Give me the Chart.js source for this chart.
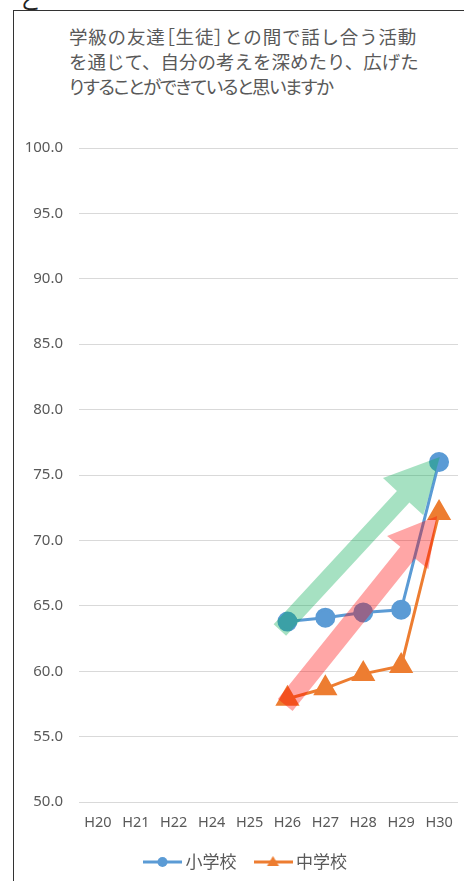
<!DOCTYPE html>
<html>
<head>
<meta charset="utf-8">
<script src="https://cdn.jsdelivr.net/npm/chart.js@4.4.1/dist/chart.umd.min.js"></script>
<style>
  body { margin: 0; background: #fff; width: 464px; height: 886px; overflow: hidden; position: relative; }
  #frame { position: absolute; left: 13px; top: 10px; width: 460px; height: 870px;
           border-left: 1.5px solid #333; border-top: 1.5px solid #333; }
  #cut { position: absolute; left: 19px; top: -17px; font: 22px "Noto Sans CJK JP"; color: #222; }
  #title { position: absolute; left: 69px; top: 24px; font: 18.5px "Noto Sans CJK JP"; line-height: 25px; color: #595959; white-space: nowrap; }
  #title .l1 { letter-spacing: 0.8px; }
  #title .b { font-feature-settings: "palt"; }
  #title .p { font-feature-settings: "palt"; letter-spacing: -1.4px; }
  #box { position: absolute; left: 15px; top: 11px; width: 449px; height: 875px; }
</style>
</head>
<body>
<div id="cut">と</div>
<div id="frame"></div>
<div id="title">
  <div class="l1">学級の友達<span class="b">［</span>生徒<span class="b">］</span>との間で話し合う活動</div>
  <div>を通じて、自分の考えを深めたり、広げた</div>
  <div class="p">りすることができていると思いますか</div>
</div>
<div id="box"><canvas id="myChart"></canvas></div>
<script>
// ---------- DATA ----------
var years = ["H20", "H21", "H22", "H24", "H25", "H26", "H27", "H28", "H29", "H30"];
var elementary = [null, null, null, null, null, 63.8, 64.1, 64.5, 64.7, 76.0];
var juniorHigh = [null, null, null, null, null, 57.9, 58.7, 59.8, 60.4, 72.1];
var yTicks = [50, 55, 60, 65, 70, 75, 80, 85, 90, 95, 100];

var blue = '#5B9BD5';
var orange = '#ED7D31';

// decorative arrows, in data units (category index, value)
var arrows = [
  { from: [4.80, 63.15], to: [9.02, 76.38], color: 'rgba(0,170,80,0.35)', shaft: 17, headW: 55, headL: 54 },
  { from: [4.94, 57.42], to: [8.95, 71.87], color: 'rgba(255,0,0,0.35)', shaft: 19, headW: 53, headL: 47 }
];

var arrowPlugin = {
  id: 'arrows',
  afterDatasetsDraw: function(chart) {
    var ctx = chart.ctx, xs = chart.scales.x, ys = chart.scales.y;
    arrows.forEach(function(a) {
      var x0 = xs.getPixelForValue(a.from[0]), y0 = ys.getPixelForValue(a.from[1]);
      var x1 = xs.getPixelForValue(a.to[0]), y1 = ys.getPixelForValue(a.to[1]);
      var len = Math.hypot(x1 - x0, y1 - y0);
      var ux = (x1 - x0) / len, uy = (y1 - y0) / len;
      var px = -uy, py = ux;
      var nx = x1 - ux * a.headL, ny = y1 - uy * a.headL;
      var s = a.shaft / 2, h = a.headW / 2;
      ctx.save();
      ctx.fillStyle = a.color;
      ctx.beginPath();
      ctx.moveTo(x0 + px * s, y0 + py * s);
      ctx.lineTo(nx + px * s, ny + py * s);
      ctx.lineTo(nx + px * h, ny + py * h);
      ctx.lineTo(x1, y1);
      ctx.lineTo(nx - px * h, ny - py * h);
      ctx.lineTo(nx - px * s, ny - py * s);
      ctx.lineTo(x0 - px * s, y0 - py * s);
      ctx.closePath();
      ctx.fill();
      ctx.restore();
    });
  }
};

// the legend sits a little right of the canvas centre in the original
var legendNudge = {
  id: 'legendNudge',
  afterLayout: function(chart) {
    chart.legend.left += 11;
    chart.legend.right += 11;
  }
};

// legend swatch: line with marker
function swatch(color, shape) {
  var c = document.createElement('canvas');
  c.width = 39; c.height = 14;
  var g = c.getContext('2d');
  g.strokeStyle = color; g.fillStyle = color; g.lineWidth = 3;
  g.beginPath(); g.moveTo(0, 7); g.lineTo(39, 7); g.stroke();
  g.beginPath();
  if (shape === 'circle') {
    g.arc(19.5, 7, 5, 0, Math.PI * 2);
  } else {
    g.moveTo(19.5, 1); g.lineTo(25.5, 11); g.lineTo(13.5, 11); g.closePath();
  }
  g.fill();
  return c;
}

var ctx = document.getElementById('myChart').getContext('2d');
var myChart = new Chart(ctx, {
  type: 'line',
  data: {
    labels: years,
    datasets: [{
      label: '小学校',
      data: elementary,
      borderColor: blue,
      backgroundColor: blue,
      borderWidth: 3,
      pointStyle: 'circle',
      pointRadius: 8.5,
      pointHoverRadius: 8.5,
      swatch: swatch(blue, 'circle')
    }, {
      label: '中学校',
      data: juniorHigh,
      borderColor: orange,
      backgroundColor: orange,
      borderWidth: 3,
      pointStyle: 'triangle',
      pointRadius: 11,
      pointHoverRadius: 11,
      swatch: swatch(orange, 'triangle')
    }]
  },
  options: {
    responsive: true,
    maintainAspectRatio: false,
    animation: false,
    layout: { autoPadding: false, padding: { top: 137, left: 0, right: 6, bottom: 5.5 } },
    plugins: {
      tooltip: { enabled: false },
      legend: {
        position: 'bottom',
        labels: {
          usePointStyle: true,
          pointStyleWidth: 29,
          padding: 22,
          color: '#595959',
          font: { family: 'Noto Sans CJK JP', size: 17 },
          generateLabels: function(chart) {
            return chart.data.datasets.map(function(ds, i) {
              return { text: ds.label, pointStyle: ds.swatch, fillStyle: ds.borderColor,
                       strokeStyle: ds.borderColor, lineWidth: 0, datasetIndex: i, fontColor: '#595959' };
            });
          }
        }
      }
    },
    scales: {
      x: {
        offset: true,
        afterFit: function(axis) { axis.paddingLeft = 0; axis.paddingRight = 0; },
        grid: { display: false, drawTicks: true, tickLength: 12 },
        border: { display: false },
        ticks: { color: '#595959', padding: 0, maxRotation: 0, font: { family: 'Noto Sans', size: 14.5 } }
      },
      y: {
        min: 50,
        max: 100,
        afterBuildTicks: function(axis) { axis.ticks = yTicks.map(function(v) { return { value: v }; }); },
        afterFit: function(axis) { axis.width = 64; },
        grid: { color: '#d9d9d9', lineWidth: 1, drawTicks: false },
        border: { display: false },
        ticks: {
          color: '#595959', padding: 16, font: { family: 'Noto Sans', size: 15 },
          callback: function(v) { return v.toFixed(1); }
        }
      }
    }
  },
  plugins: [arrowPlugin, legendNudge]
});
</script>
</body>
</html>
